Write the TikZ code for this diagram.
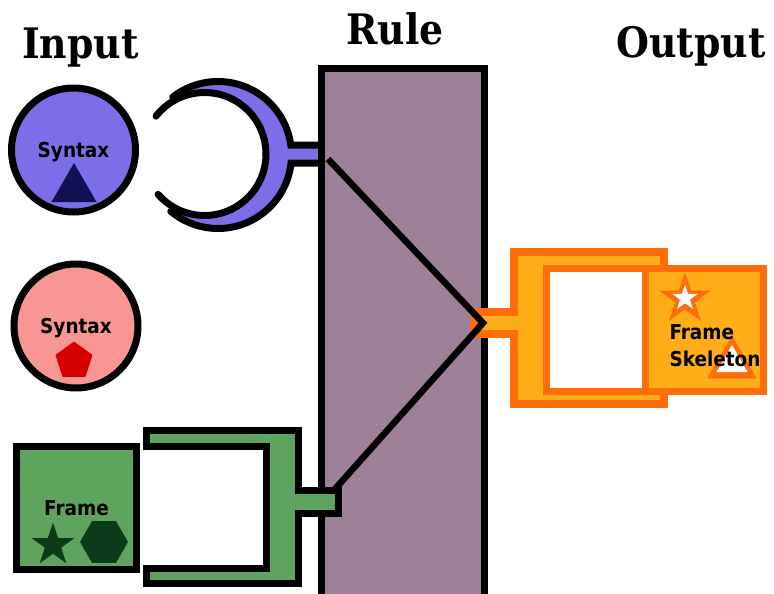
\documentclass[tikz,border=0pt]{standalone}
\usepackage{fontspec}
\newfontfamily\lblfont{DejaVu Sans Condensed}
\newfontfamily\headfont{DejaVu Serif Condensed}
\usetikzlibrary{calc}
\usetikzlibrary{shapes.geometric}
\definecolor{synblue}{RGB}{124,110,232}
\definecolor{synnavy}{RGB}{16,16,84}
\definecolor{synpink}{RGB}{248,150,148}
\definecolor{synred}{RGB}{212,0,0}
\definecolor{framegreen}{RGB}{94,164,94}
\definecolor{framedark}{RGB}{10,58,24}
\definecolor{rulemauve}{RGB}{158,128,152}
\definecolor{skelline}{RGB}{255,108,10}
\definecolor{skelfill}{RGB}{255,174,24}

\begin{document}
\begin{tikzpicture}[x=1pt,y=-1pt]
        \tikzset{head/.style = {font=\headfont\bfseries\fontsize{42}{48}\selectfont,anchor=base,inner sep=0}}
        \tikzset{lbl/.style = {font=\lblfont\bfseries\fontsize{20.5}{27}\selectfont,text depth=0pt}}
        \tikzset{part/.style = {draw=black,line width=7pt,line join=miter}}
        \tikzset{opart/.style = {draw=skelline,line width=7.5pt,line join=miter}}
        \tikzset{syntax/.style = {part,circle,inner sep=0,minimum size=124,lbl}}
        \tikzset{glyph/.style = {regular polygon,inner sep=0}}
        \useasboundingbox (0,0) rectangle (774,594);

        \node[head] (in) at (80.5,59) {Input};
        \node[head] (ru) at (395,45) {Rule};
        \node[head] (out) at (691,58) {Output};

        \node[syntax,fill=synblue] (syn1) at (73.5,150) {Syntax};
        \node[glyph,regular polygon sides=3,minimum size=52,fill=synnavy] (tri) at (74,189) {};
        \node[syntax,fill=synpink] (syn2) at (76,326) {Syntax};
        \node[glyph,regular polygon sides=5,minimum size=39,fill=synred] (pent) at (74,361) {};

        \node[part,fill=framegreen,minimum width=120,minimum height=123.5,inner sep=0,lbl] (frm) at (76.5,508) {Frame};
        \node[star,star points=5,star point ratio=2.6,minimum size=45,inner sep=0,fill=framedark] (fstar) at (53,545) {};
        \node[glyph,regular polygon sides=6,minimum size=48,fill=framedark] (hex) at (104,542) {};

        \coordinate (ca) at (204.5,154);
        \coordinate (cb) at (218,155);
        \begin{scope}
            \clip (172,60) rectangle (330,250);
            \fill[synblue,even odd rule] (cb) circle[radius=73.5pt] (ca) circle[radius=61.5pt];
        \end{scope}
        \fill[synblue] (285,145) rectangle (322,163);
        \draw[part,line cap=round] ($(cb)+(128:73.5pt)$) arc[start angle=128,end angle=7.82,radius=73.5pt] -- (322,145);
        \draw[part,line cap=round] (322,163) -- ($(cb)+(-6.25:73.5pt)$) arc[start angle=-6.25,end angle=-130,radius=73.5pt];
        \draw[part,line cap=round] ($(ca)+(142:61.5pt)$) arc[start angle=142,end angle=-139,radius=61.5pt];

        \node[part,fill=rulemauve,minimum width=162.5,minimum height=533,inner sep=0] (rule) at (402.75,335) {};

        \filldraw[part,fill=framegreen] (146.5,430.5) -- (298.5,430.5) -- (298.5,490.5) -- (338.5,490.5)
            -- (338.5,513.5) -- (298.5,513.5) -- (298.5,583.5) -- (146.5,583.5) -- (146.5,568.5)
            -- (266.5,568.5) -- (266.5,446.5) -- (146.5,446.5) -- cycle;

        \filldraw[opart,fill=skelfill] (514,252) -- (664,252) -- (664,404) -- (514,404) -- (514,334)
            -- (474,334) -- (474,312) -- (514,312) -- cycle;
        \filldraw[opart,line width=7pt,fill=white] (546.5,268.5) rectangle (645,391.5);
        \node[opart,line width=7pt,fill=skelfill,minimum width=118.5,minimum height=123,inner sep=0] (skel) at (704.25,330) {};
        \node[star,star points=5,star point ratio=2.6,minimum size=54,inner sep=0,fill=skelline] (ostar) at (685,299) {};
        \node[star,star points=5,star point ratio=2.6,minimum size=27,inner sep=0,fill=white] (wstar) at (685,298) {};
        \node[glyph,regular polygon sides=3,minimum size=57,fill=skelline] (otri) at (732,364) {};
        \node[glyph,regular polygon sides=3,minimum size=36,fill=white] (wtri) at (732,363) {};
        \node[lbl,align=left,anchor=west] (skeltxt) at (666,346) {Frame\\Skeleton};

        \coordinate (r1) at (328,159);
        \coordinate (apex) at (483,323);
        \coordinate (r2) at (335,489);
        \draw[part,line width=6.5pt] (r1) -- (apex) -- (r2);
    \end{tikzpicture}
\end{document}
